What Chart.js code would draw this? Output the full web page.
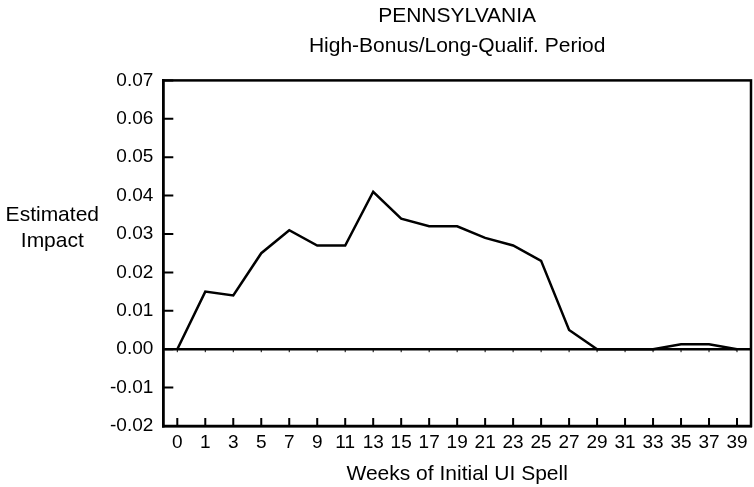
<!DOCTYPE html>
<html>
<head>
<meta charset="utf-8">
<script src="https://cdn.jsdelivr.net/npm/chart.js@4/dist/chart.umd.min.js"></script>
<style>
    html, body { margin: 0; padding: 0; background: #fff; }
    #wrap { width: 754px; height: 487px; }
</style>
</head>
<body>
<div id="wrap"><canvas id="impact_plot"></canvas></div>
<script>
'use strict';

// weeks of initial UI spell (category labels)
const weeks = ['0', '1', '3', '5', '7', '9', '11', '13', '15', '17', '19',
    '21', '23', '25', '27', '29', '31', '33', '35', '37', '39'];

// estimated impact
const impact = [0, 0.015, 0.014, 0.025, 0.031, 0.027, 0.027, 0.041, 0.034, 0.032, 0.032,
    0.029, 0.027, 0.023, 0.005, 0, 0, 0, 0.0013, 0.0013, 0];

const titleText = 'PENNSYLVANIA';
const subtitleText = 'High-Bonus/Long-Qualif. Period';
const xAxisLabel = 'Weeks of Initial UI Spell';
const yAxisLines = ['Estimated', 'Impact'];

const FONT = '"Liberation Sans", Arial, Helvetica, sans-serif';

/**
 * Box around the plot, inward tick marks and the horizontal y label.
 */
const frameDecor = {
    id: 'frameDecor',
    afterDraw: function (chart) {
        const ctx = chart.ctx;
        const area = chart.chartArea;
        const x = chart.scales.x;
        const y = chart.scales.y;

        ctx.save();
        ctx.strokeStyle = '#000';
        ctx.lineWidth = 2.5;
        ctx.strokeRect(area.left, area.top, area.right - area.left, area.bottom - area.top);

        // bottom ticks pointing up
        ctx.lineWidth = 2;
        ctx.beginPath();
        x.ticks.forEach(function (t, i) {
            const px = x.getPixelForTick(i);
            ctx.moveTo(px, area.bottom);
            ctx.lineTo(px, area.bottom - 8);
        });
        // left ticks pointing right
        y.ticks.forEach(function (t, i) {
            const py = y.getPixelForTick(i);
            ctx.moveTo(area.left, py);
            ctx.lineTo(area.left + 10, py);
        });
        ctx.stroke();

        // small ticks on the zero line
        const zero = y.getPixelForValue(0);
        ctx.lineWidth = 1;
        ctx.beginPath();
        x.ticks.forEach(function (t, i) {
            const px = x.getPixelForTick(i);
            ctx.moveTo(px, zero);
            ctx.lineTo(px, zero + 3);
        });
        ctx.stroke();

        // horizontal y axis label
        ctx.fillStyle = '#000';
        ctx.font = '21px ' + FONT;
        ctx.textAlign = 'center';
        ctx.textBaseline = 'middle';
        const cx = area.left - 111;
        const cy = y.getPixelForValue(0.0315);
        ctx.fillText(yAxisLines[0], cx, cy - 13);
        ctx.fillText(yAxisLines[1], cx, cy + 13);
        ctx.restore();
    }
};

const ctx = document.getElementById('impact_plot').getContext('2d');

new Chart(ctx, {
    type: 'line',
    data: {
        labels: weeks,
        datasets: [{
            data: impact,
            borderColor: '#000',
            borderWidth: 2.5,
            pointRadius: 0,
            fill: false,
            tension: 0
        }]
    },
    options: {
        responsive: true,
        maintainAspectRatio: false,
        animation: false,
        layout: {
            padding: { left: 100, right: 3, top: 0, bottom: 0 }
        },
        plugins: {
            legend: { display: false },
            tooltip: { enabled: false },
            title: {
                display: true,
                text: titleText,
                fullSize: false,
                color: '#000',
                font: { family: FONT, size: 21, weight: 'normal' },
                padding: { top: 4, bottom: 4 }
            },
            subtitle: {
                display: true,
                text: subtitleText,
                fullSize: false,
                color: '#000',
                font: { family: FONT, size: 21, weight: 'normal' },
                padding: { top: 0, bottom: 22 }
            }
        },
        scales: {
            x: {
                type: 'category',
                offset: true,
                grid: { display: false, drawTicks: false },
                border: { display: true, color: '#000', width: 2.5 },
                ticks: {
                    color: '#000',
                    font: { family: FONT, size: 19 },
                    padding: 5,
                    maxRotation: 0,
                    autoSkip: false
                },
                title: {
                    display: true,
                    text: xAxisLabel,
                    color: '#000',
                    font: { family: FONT, size: 21 },
                    padding: { top: 3, bottom: 0 }
                }
            },
            y: {
                type: 'linear',
                min: -0.02,
                max: 0.07,
                grid: {
                    drawTicks: false,
                    color: c => c.tick && Math.abs(c.tick.value) < 1e-9 ? '#000' : 'rgba(0,0,0,0)',
                    lineWidth: 2.5
                },
                border: { display: true, color: '#000', width: 2.5 },
                ticks: {
                    stepSize: 0.01,
                    color: '#000',
                    font: { family: FONT, size: 19 },
                    padding: 10,
                    callback: v => v.toFixed(2)
                }
            }
        }
    },
    plugins: [frameDecor]
});
</script>
</body>
</html>
